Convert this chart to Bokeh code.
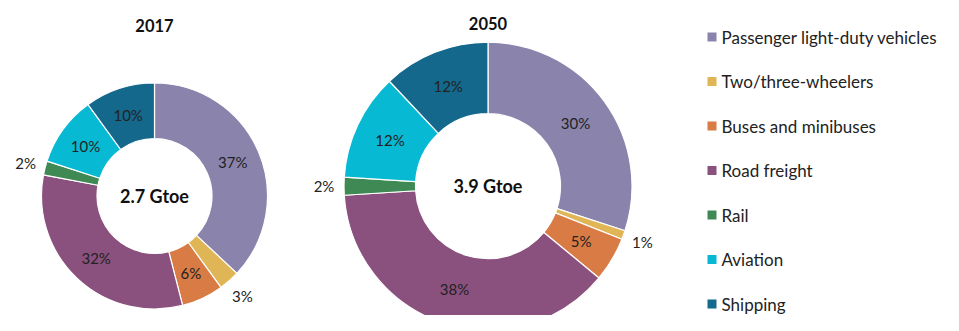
import math
from bokeh.plotting import figure
from bokeh.models import Range1d, ColumnDataSource
from bokeh.core.properties import value
from bokeh.embed import file_html
from bokeh.resources import INLINE

categories = ["Passenger light-duty vehicles", "Two/three-wheelers", "Buses and minibuses",
              "Road freight", "Rail", "Aviation", "Shipping"]
colors = ["#8A84AD", "#E0B556", "#D97B44", "#8B517E", "#3F8954", "#08B9D3", "#13688C"]
share_2017 = [37, 3, 6, 32, 2, 10, 10]
share_2050 = [30, 1, 5, 38, 2, 12, 12]
titles = ["2017", "2050"]
totals = ["2.7 Gtoe", "3.9 Gtoe"]

FONT = "Lato"
W, H = 943, 315

def Y(py):
    return H - py

p = figure(width=W, height=H, output_backend="svg", toolbar_location=None,
           x_range=Range1d(0, W), y_range=Range1d(0, H), min_border=0)
p.axis.visible = False
p.grid.visible = False
p.outline_line_color = None
p.background_fill_color = "white"
p.border_fill_color = "white"

donuts = [
    dict(cx=154.0, cy=195.5, r_out=113.0, r_in=57.5, ty=25, vals=share_2017),
    dict(cx=487.5, cy=185.7, r_out=144.0, r_in=72.5, ty=23, vals=share_2050),
]

for d, title, total in zip(donuts, titles, totals):
    vals = d["vals"]
    tot = float(sum(vals))
    starts, ends, lx, ly, lt = [], [], [], [], []
    ox, oy, ot = [], [], []
    cum = 0.0
    for v in vals:
        a0 = math.pi / 2 - 2 * math.pi * cum / tot
        a1 = math.pi / 2 - 2 * math.pi * (cum + v) / tot
        starts.append(a0)
        ends.append(a1)
        mid = (a0 + a1) / 2
        if v < 4:
            rr = d["r_out"] + 20
            ox.append(d["cx"] + rr * math.cos(mid))
            oy.append(Y(d["cy"]) + rr * math.sin(mid))
            ot.append(f"{v}%")
        else:
            rr = (d["r_out"] + d["r_in"]) / 2
            lx.append(d["cx"] + rr * math.cos(mid))
            ly.append(Y(d["cy"]) + rr * math.sin(mid))
            lt.append(f"{v}%")
        cum += v
    src = ColumnDataSource(dict(start=starts, end=ends, color=colors))
    p.annular_wedge(x=d["cx"], y=Y(d["cy"]), inner_radius=d["r_in"], outer_radius=d["r_out"],
                    start_angle="start", end_angle="end", direction="clock",
                    fill_color="color", line_color="white", line_width=1.2, source=src)
    p.text(x=lx, y=ly, text=lt, text_font=value(FONT), text_font_size="15px",
           text_color="#222222", text_align="center", text_baseline="middle")
    p.text(x=ox, y=oy, text=ot, text_font=value(FONT), text_font_size="15px",
           text_color="#222222", text_align="center", text_baseline="middle")
    p.text(x=[d["cx"]], y=[Y(d["cy"])], text=[total], text_font=value(FONT),
           text_font_size="18px", text_font_style="bold", text_color="#111111",
           text_align="center", text_baseline="middle")
    p.text(x=[d["cx"]], y=[Y(d["ty"])], text=[title], text_font=value(FONT),
           text_font_size="16.5px", text_font_style="bold", text_color="#111111",
           text_align="center", text_baseline="middle")

# legend
leg_y0, leg_dy = 36.5, 44.5
ly_leg = [Y(leg_y0 + i * leg_dy) for i in range(len(categories))]
p.rect(x=[711.5] * len(categories), y=ly_leg, width=9, height=9,
       fill_color=colors, line_color=None)
p.text(x=[721] * len(categories), y=ly_leg, text=categories, text_font=value(FONT),
       text_font_size="17px", text_color="#222222", text_align="left",
       text_baseline="middle")

open("out.html", "w").write(file_html(p, INLINE))
